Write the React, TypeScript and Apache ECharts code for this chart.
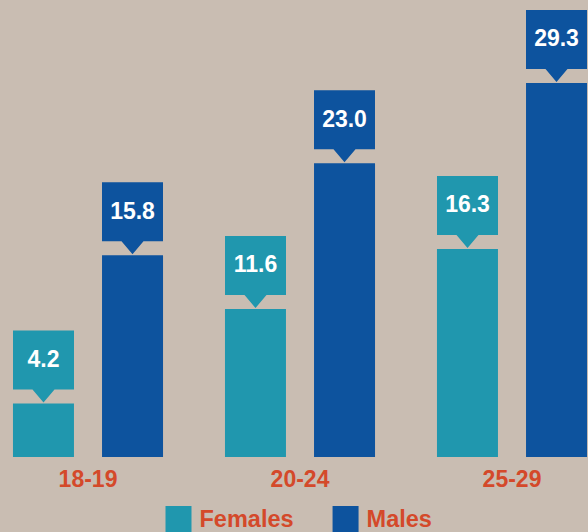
import React, { useEffect, useRef } from 'react';
import * as echarts from 'echarts';

const CATEGORIES = ['18-19', '20-24', '25-29'];
const FEMALES = [4.2, 11.6, 16.3];
const MALES = [15.8, 23.0, 29.3];
const SERIES_NAMES = ['Females', 'Males'];

const BG = '#c9bdb2';
const TEAL = '#2097ae';
const BLUE = '#0d539e';
const RED = '#d4492a';
const FONT = '"Liberation Sans", Arial, Helvetica, sans-serif';

const SHIFT = 18.5;
const BAR_W = 61;
const GAP = 28;
const OFFSET = (BAR_W + GAP) / 2;

function callout(offset: number, color: string) {
  return (_params: any, api: any) => {
    const v = api.value(1) as number;
    const [cx, top] = api.coord([api.value(0), v]);
    const x = cx + offset;
    const l = x - BAR_W / 2;
    const r = x + BAR_W / 2;
    const bb = top - 14;
    const bt = bb - 59;
    return {
      type: 'group',
      children: [
        {
          type: 'polygon',
          shape: {
            points: [
              [l, bt],
              [r, bt],
              [r, bb],
              [x + 11, bb],
              [x, top - 1],
              [x - 11, bb],
              [l, bb],
            ],
          },
          style: { fill: color },
        },
        {
          type: 'text',
          x: x,
          y: (bt + bb) / 2 - 1,
          style: {
            text: v.toFixed(1),
            fill: '#ffffff',
            fontSize: 23,
            fontWeight: 'bold',
            fontFamily: FONT,
            align: 'center',
            verticalAlign: 'middle',
          },
        },
      ],
    };
  };
}

export default function App() {
  const ref = useRef<HTMLDivElement>(null);
  useEffect(() => {
    document.body.style.margin = '0';
    document.body.style.background = BG;
    const chart = echarts.init(ref.current!, undefined, { renderer: 'svg' });
    chart.setOption({
      animation: false,
      backgroundColor: BG,
      grid: { left: 0, right: 0, top: 74, bottom: 75 },
      legend: {
        data: SERIES_NAMES,
        left: 165 + SHIFT,
        top: 506,
        padding: 0,
        icon: 'rect',
        itemWidth: 26,
        itemHeight: 26,
        itemGap: 39,
        textStyle: {
          color: RED,
          fontSize: 23.5,
          fontWeight: 'bold',
          fontFamily: FONT,
          padding: [0, 0, 0, 3],
        },
      },
      xAxis: {
        type: 'category',
        data: CATEGORIES,
        axisLine: { show: false },
        axisTick: { show: false },
        axisLabel: {
          color: RED,
          fontSize: 23,
          fontWeight: 'bold',
          fontFamily: FONT,
          margin: 10,
        },
      },
      yAxis: { type: 'value', min: 0, max: 30, show: false },
      series: [
        {
          name: SERIES_NAMES[0],
          type: 'bar',
          data: FEMALES,
          barWidth: BAR_W,
          barGap: '46%',
          itemStyle: { color: TEAL },
        },
        {
          name: SERIES_NAMES[1],
          type: 'bar',
          data: MALES,
          barWidth: BAR_W,
          barGap: '46%',
          itemStyle: { color: BLUE },
        },
        {
          name: 'FemalesCallout',
          type: 'custom',
          data: FEMALES.map((v, i) => [i, v]),
          encode: { x: 0, y: 1 },
          renderItem: callout(-OFFSET, TEAL),
          z: 5,
        },
        {
          name: 'MalesCallout',
          type: 'custom',
          data: MALES.map((v, i) => [i, v]),
          encode: { x: 0, y: 1 },
          renderItem: callout(OFFSET, BLUE),
          z: 5,
        },
      ],
    });
    return () => chart.dispose();
  }, []);
  return (
    <div
      ref={ref}
      style={{ position: 'fixed', left: -SHIFT, top: 0, width: 636, height: 532 }}
    />
  );
}
